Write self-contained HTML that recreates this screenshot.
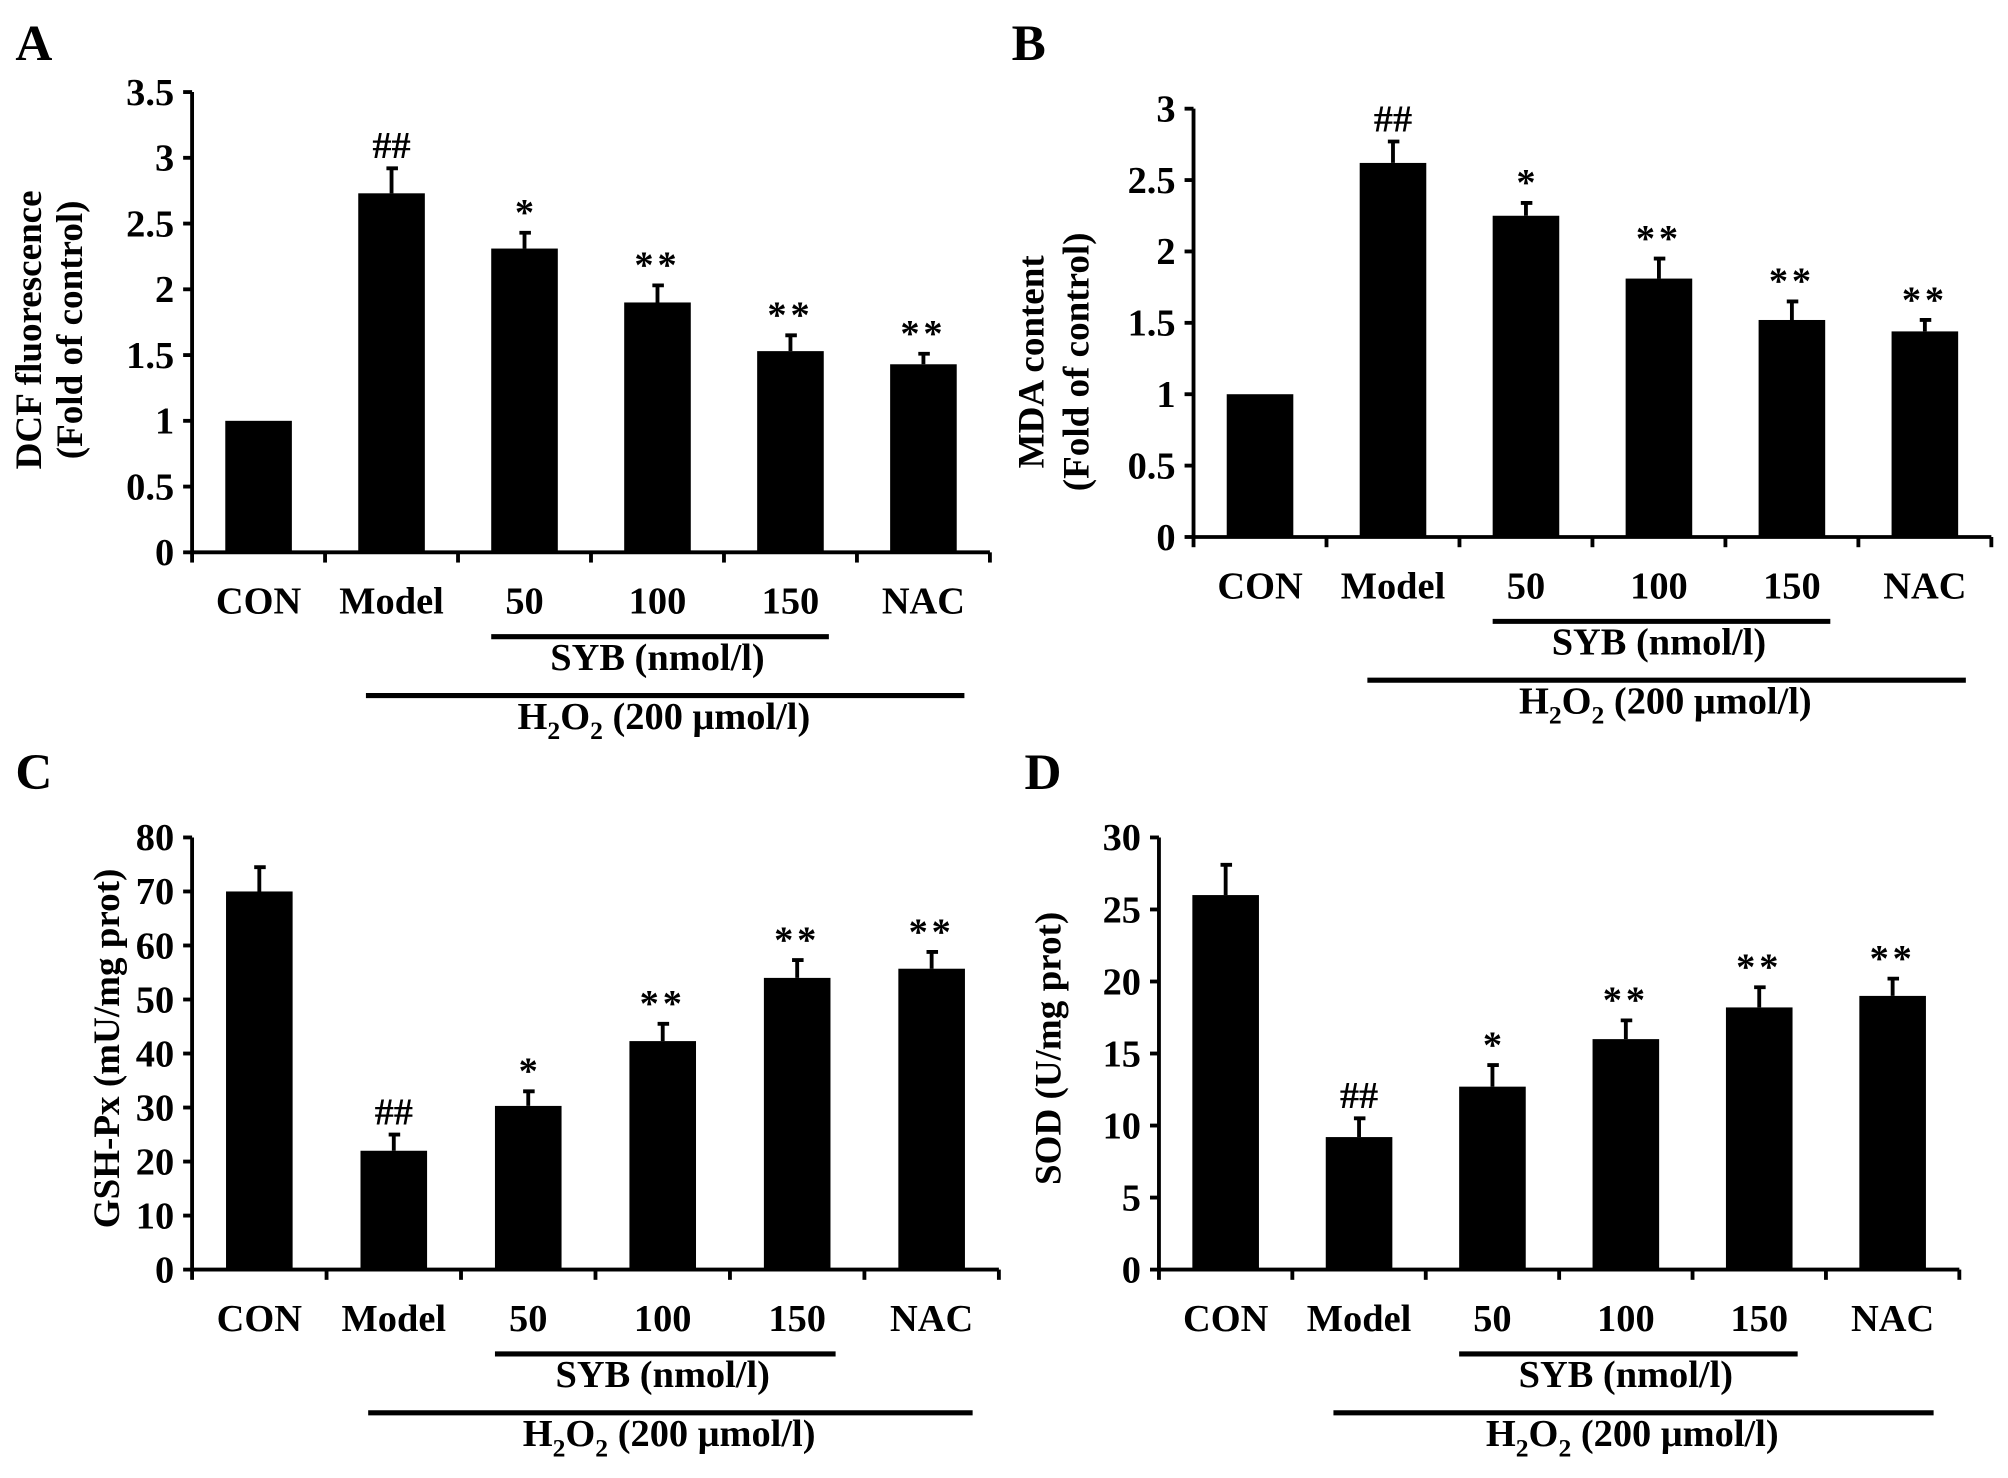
<!DOCTYPE html>
<html><head><meta charset="utf-8"><style>
html,body{margin:0;padding:0;background:#fff;}
svg{display:block;}
text{font-family:"Liberation Serif",serif;font-weight:bold;fill:#000;}
</style></head><body>
<svg id="fig" width="2008" height="1478" viewBox="0 0 1568 1156" preserveAspectRatio="none" xmlns="http://www.w3.org/2000/svg"></svg>
<script>
const categories = ["CON","Model","50","100","150","NAC"];
const valuesA = [1, 2.73, 2.31, 1.90, 1.53, 1.43];
const errA = [0, 0.19, 0.12, 0.13, 0.12, 0.08];
const sigA = ["", "##", "*", "**", "**", "**"];
const ticksA = ["0","0.5","1","1.5","2","2.5","3","3.5"];
const valuesB = [1, 2.62, 2.25, 1.81, 1.52, 1.44];
const errB = [0, 0.15, 0.09, 0.14, 0.13, 0.08];
const sigB = ["", "##", "*", "**", "**", "**"];
const ticksB = ["0","0.5","1","1.5","2","2.5","3"];
const valuesC = [70, 22, 30.3, 42.3, 54, 55.7];
const errC = [4.5, 3, 2.7, 3.2, 3.3, 3.1];
const sigC = ["", "##", "*", "**", "**", "**"];
const ticksC = ["0","10","20","30","40","50","60","70","80"];
const valuesD = [26, 9.2, 12.7, 16, 18.2, 19];
const errD = [2.1, 1.3, 1.5, 1.3, 1.4, 1.2];
const sigD = ["", "##", "*", "**", "**", "**"];
const ticksD = ["0","5","10","15","20","25","30"];

const NS = "http://www.w3.org/2000/svg";
const svg = document.getElementById("fig");
function mk(tag, attrs, parent, txt){
  const e = document.createElementNS(NS, tag);
  for (const k in attrs) e.setAttribute(k, attrs[k]);
  if (txt !== undefined) e.textContent = txt;
  (parent||svg).appendChild(e);
  return e;
}
function panel(p){
  const g = mk("g", {});
  
  
  const ymax = parseFloat(p.ticks[p.ticks.length-1]);
  const y = v => p.y0 - (v / ymax) * (p.y0 - p.yTop);
  const cw = (p.xEnd - p.x0) / categories.length;
  const x = i => p.x0 + cw * (i + 0.5);
  const L = mk("text", {x:p.lx, y:p.ly, "font-size":40}, g, p.letter);
  
  
  categories.forEach((c, i) => {
    const v = p.vals[i], top = y(v);
    const r = mk("rect", {x:x(i)-26, y:top, width:52, height:p.y0-top, fill:"#000"}, g);
    
    
    if (p.err[i] > 0) {
      const et = y(v + p.err[i]);
      const eb = mk("path", {d:`M${x(i)} ${top} V${et} M${x(i)-4} ${et} H${x(i)+5}`, stroke:"#000", "stroke-width":3, fill:"none"}, g);
      
      
    }
    if (p.sig[i]) {
      const s = p.sig[i];
      const t = mk("text", {x:x(i), y:y(v + p.err[i]) - (s==="##"?8:6), "text-anchor":"middle", "font-size": 30, "font-weight":"normal", "letter-spacing": s==="**"?3:0}, g, s);
      
      
    }
    const cl = mk("text", {x:x(i), y:p.catY, "text-anchor":"middle", "font-size":30}, g, c);
    
    
  });
  const ax = mk("path", {d:`M${p.x0} ${p.yTop} V${p.y0} H${p.xEnd}`, stroke:"#000", "stroke-width":3, fill:"none"}, g);
  
  
  p.ticks.forEach(t => {
    const yy = y(parseFloat(t));
    const tk = mk("line", {x1:p.x0-7, x2:p.x0, y1:yy, y2:yy, stroke:"#000", "stroke-width":3}, g);
    
    
    const tl = mk("text", {x:p.x0-14, y:yy+10, "text-anchor":"end", "font-size":30}, g, t);
    
    
  });
  for (let i = 0; i <= categories.length; i++) {
    const xx = p.x0 + cw * i;
    const tk = mk("line", {x1:xx, x2:xx, y1:p.y0, y2:p.y0+8, stroke:"#000", "stroke-width":3}, g);
    
    
  }
  p.titles.forEach(tt => {
    const t = mk("text", {x:0, y:0, "text-anchor":"middle", "font-size":29, transform:`translate(${tt[0]},${p.tcy}) rotate(-90)`}, g, tt[1]);
    
    
  });
  const s1 = mk("line", {x1:x(2)-26, x2:x(4)+30, y1:p.catY+18, y2:p.catY+18, stroke:"#000", "stroke-width":4}, g);
  
  
  const st = mk("text", {x:(x(2)+x(4))/2, y:p.catY+44, "text-anchor":"middle", "font-size":30}, g, "SYB (nmol/l)");
  
  
  const s2 = mk("line", {x1:x(1)-20, x2:x(5)+32, y1:p.catY+64, y2:p.catY+64, stroke:"#000", "stroke-width":4}, g);
  
  
  const ht = mk("text", {x:(x(1)+x(5))/2+5, y:p.catY+90, "text-anchor":"middle", "font-size":30}, g);
  
  
  ht.innerHTML = 'H<tspan font-size="20" dy="8">2</tspan><tspan dy="-8">O</tspan><tspan font-size="20" dy="8">2</tspan><tspan dy="-8"> (200 μmol/l)</tspan>';
}
panel({letter:"A", lx:12, ly:47, x0:150, xEnd:773, y0:432, yTop:72, vals:valuesA, err:errA, sig:sigA, ticks:ticksA, catY:480, titles:[[32,"DCF fluorescence"],[64,"(Fold of control)"]], tcy:258});
panel({letter:"B", lx:790, ly:47, x0:932, xEnd:1555, y0:420, yTop:85, vals:valuesB, err:errB, sig:sigB, ticks:ticksB, catY:468, titles:[[815,"MDA content"],[850,"(Fold of control)"]], tcy:283});
panel({letter:"C", lx:12, ly:617, x0:150, xEnd:780, y0:993, yTop:655, vals:valuesC, err:errC, sig:sigC, ticks:ticksC, catY:1041, titles:[[93,"GSH-Px (mU/mg prot)"]], tcy:820});
panel({letter:"D", lx:800, ly:617, x0:905, xEnd:1530, y0:993, yTop:655, vals:valuesD, err:errD, sig:sigD, ticks:ticksD, catY:1041, titles:[[828,"SOD (U/mg prot)"]], tcy:820});
</script>
</body></html>
